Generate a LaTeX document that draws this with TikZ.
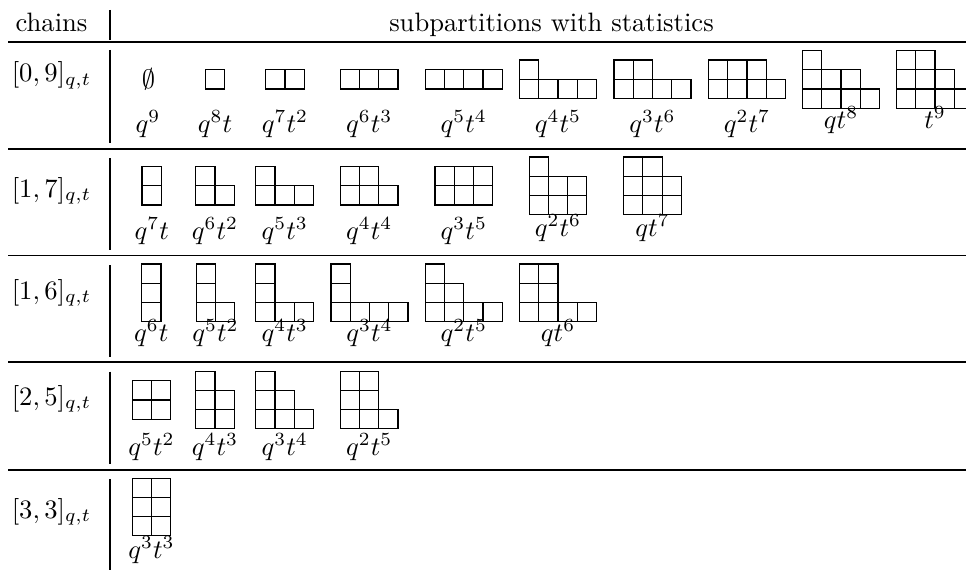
\documentclass[tikz,border=0pt]{standalone}
\usepackage{amssymb}
\newcommand\ydc{19.25}
% #1 cx, #2 cy, #3 number of rows, #4 longest row, #5 row lengths from bottom to top
\newcommand\ydiag[5]{%
  \draw[ycell] \foreach \len [count=\rr from 0] in {#5} {
    \foreach \kk in {1,...,\len} {
      ({#1-#4*\ydc/2+(\kk-1)*\ydc},{#2+#3*\ydc/2-(\rr+1)*\ydc}) rectangle ++(\ydc,\ydc)
    }
  };%
}
\begin{document}
\begin{tikzpicture}[x=0.3759pt,y=-0.3759pt,
  ycell/.style={line width=0.45pt},
  lab/.style={anchor=base, inner sep=0pt},
  toprule/.style={line width=0.8pt},
  midrule/.style={line width=0.5pt},
  vrule/.style={line width=0.4pt}]
\useasboundingbox (0,0) rectangle (966,574);

% header
\node[lab] (hchains) at (51.5,31.5) {chains};
\node[lab] (hsub) at (551.5,31.5) {subpartitions with statistics};

% rules
\draw[toprule] (8,42) -- (975,42);
\draw[midrule] (8,149) -- (975,149);
\draw[midrule] (8,255.5) -- (975,255.5);
\draw[midrule] (8,362) -- (975,362);
\draw[midrule] (8,470) -- (975,470);

% vertical separator pieces
\draw[vrule] (110,10) -- (110,40);
\draw[vrule] (110,50) -- (110,143);
\draw[vrule] (110,158) -- (110,250);
\draw[vrule] (110,265) -- (110,356.5);
\draw[vrule] (110,371.5) -- (110,463.5);
\draw[vrule] (110,479) -- (110,570);

% chain labels
\node[lab] (c1) at (51.5,82) {$[0,9]_{q,t}$};
\node[lab] (c2) at (51.5,197) {$[1,7]_{q,t}$};
\node[lab] (c3) at (51.5,299) {$[1,6]_{q,t}$};
\node[lab] (c4) at (51.5,405) {$[2,5]_{q,t}$};
\node[lab] (c5) at (51.5,518) {$[3,3]_{q,t}$};

% ---- row 1 : [0,9]
\node[inner sep=0pt] (e11) at (148.5,79.3) {$\emptyset$};
\ydiag{215}{79.3}{1}{1}{1}
\ydiag{285}{79.3}{1}{2}{2}
\ydiag{369.2}{79.3}{1}{3}{3}
\ydiag{463.7}{79.3}{1}{4}{4}
\ydiag{558}{79.3}{2}{4}{4,1}
\ydiag{652.5}{79.3}{2}{4}{4,2}
\ydiag{747}{79.3}{2}{4}{4,3}
\ydiag{841}{79.3}{3}{4}{4,3,1}
\ydiag{935}{79.3}{3}{4}{4,3,2}
\node[lab] (s11) at (148,132.5) {$q^9$};
\node[lab] (s12) at (215,132.5) {$q^8t$};
\node[lab] (s13) at (285,132.5) {$q^7t^2$};
\node[lab] (s14) at (369.2,132.5) {$q^6t^3$};
\node[lab] (s15) at (463.7,132.5) {$q^5t^4$};
\node[lab] (s16) at (558,132.5) {$q^4t^5$};
\node[lab] (s17) at (652.5,132.5) {$q^3t^6$};
\node[lab] (s18) at (747,132.5) {$q^2t^7$};
\node[lab] (s19) at (841,128.5) {$qt^8$};
\node[lab] (s1a) at (935,128.5) {$t^9$};

% ---- row 2 : [1,7]
\ydiag{151.7}{185.8}{2}{1}{1,1}
\ydiag{215}{185.8}{2}{2}{2,1}
\ydiag{284.7}{185.8}{2}{3}{3,1}
\ydiag{369.2}{185.8}{2}{3}{3,2}
\ydiag{463.8}{185.8}{2}{3}{3,3}
\ydiag{558}{185.8}{3}{3}{3,3,1}
\ydiag{652.5}{185.8}{3}{3}{3,3,2}
\node[lab] (s21) at (151.7,239) {$q^7t$};
\node[lab] (s22) at (215,239) {$q^6t^2$};
\node[lab] (s23) at (284.7,239) {$q^5t^3$};
\node[lab] (s24) at (369.2,239) {$q^4t^4$};
\node[lab] (s25) at (463.8,239) {$q^3t^5$};
\node[lab] (s26) at (558,236) {$q^2t^6$};
\node[lab] (s27) at (652.5,236) {$qt^7$};

% ---- row 3 : [1,6]
\ydiag{151.3}{292.8}{3}{1}{1,1,1}
\ydiag{215.5}{292.8}{3}{2}{2,1,1}
\ydiag{284.7}{292.8}{3}{3}{3,1,1}
\ydiag{369.5}{292.8}{3}{4}{4,1,1}
\ydiag{463.8}{292.8}{3}{4}{4,2,1}
\ydiag{558}{292.8}{3}{4}{4,2,2}
\node[lab] (s31) at (151.3,341) {$q^6t$};
\node[lab] (s32) at (215.5,341) {$q^5t^2$};
\node[lab] (s33) at (284.7,341) {$q^4t^3$};
\node[lab] (s34) at (369.5,341) {$q^3t^4$};
\node[lab] (s35) at (463.8,341) {$q^2t^5$};
\node[lab] (s36) at (558,341) {$qt^6$};

% ---- row 4 : [2,5]
\ydiag{151.5}{400}{2}{2}{2,2}
\ydiag{215}{400}{3}{2}{2,2,1}
\ydiag{284.7}{400}{3}{3}{3,2,1}
\ydiag{369.2}{400}{3}{3}{3,2,2}
\node[lab] (s41) at (151.5,455) {$q^5t^2$};
\node[lab] (s42) at (215,455) {$q^4t^3$};
\node[lab] (s43) at (284.7,455) {$q^3t^4$};
\node[lab] (s44) at (369.2,455) {$q^2t^5$};

% ---- row 5 : [3,3]
\ydiag{151.5}{507}{3}{2}{2,2,2}
\node[lab] (s51) at (151.5,558) {$q^3t^3$};
\end{tikzpicture}
\end{document}
